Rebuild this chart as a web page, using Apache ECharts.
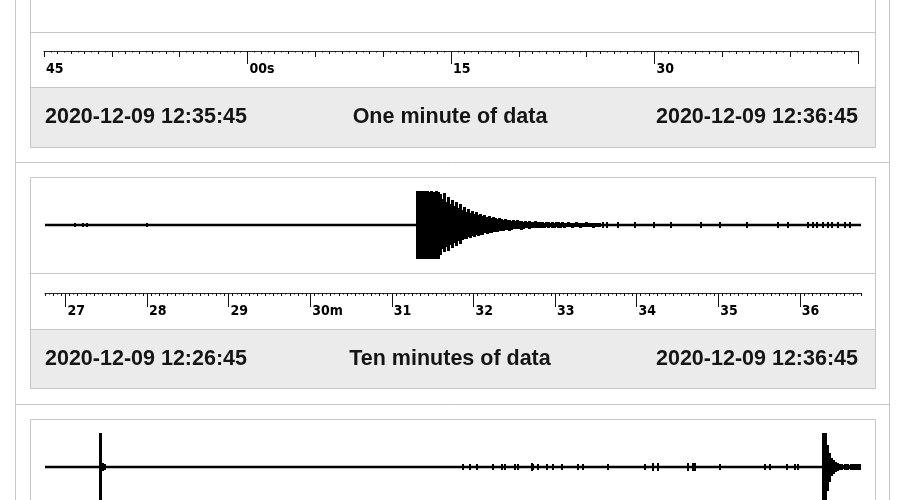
<!DOCTYPE html>
<html><head><meta charset="utf-8">
<script src="https://cdn.jsdelivr.net/npm/echarts@6/dist/echarts.min.js"></script>
<style>html,body{margin:0;padding:0;background:#fff}#c{width:900px;height:500px}</style>
</head><body><div id="c"></div>
<script>
// ---------------- data ----------------
const dateStr = '2020-12-09';
const panelTitles = ['One minute of data', 'Ten minutes of data'];
const panelStartTimes = ['12:35:45', '12:26:45'];
const panelEndTimes = ['12:36:45', '12:36:45'];
const twoHourStart = '10:36:45';
const twoHourEnd = '12:36:45';

const oneMinTickTimes = ['12:35:45', '12:36:00', '12:36:15', '12:36:30'];
const oneMinTickLabels = ['45', '00s', '15', '30'];
const tenMinTickTimes = ['12:27:00', '12:28:00', '12:29:00', '12:30:00', '12:31:00',
                         '12:32:00', '12:33:00', '12:34:00', '12:35:00', '12:36:00'];
const tenMinTickLabels = ['27', '28', '29', '30m', '31', '32', '33', '34', '35', '36'];

// ten-minute trace: envelope of the quake (amplitude above / below the baseline)
const tenMinEventStart = '12:31:19';
const tenMinEventStep = 1.5; // seconds per column
const tenMinEventUp = [
  34,34,34,34,34,34,33,34,33,34,33,
  31,26,32,23,28,21,25,19,23,17,
  21,15,18,13,16,12,14,11,13,10,
  11,9,10,8,9,7,8,7,6,7,
  6,5,6,5,5,4,5,4,5,4,
  4,3,4,3,4,3,3,4,3,3,
  3,2,3,3,2,3,2,3,3,2,
  3,2,2,3,2,2,2,3,2,2,2,2,3,2,2,2,2,2,2];
const tenMinEventDown = [
  34,34,34,34,34,34,34,34,34,34,34,
  30,24,27,22,26,20,23,18,21,16,
  19,15,14,14,12,13,11,12,10,11,
  10,10,8,9,8,8,7,7,7,6,
  6,6,5,5,6,5,4,4,4,4,
  5,4,3,3,4,3,3,3,3,3,
  3,3,2,3,2,3,3,2,3,3,
  2,3,2,2,2,3,2,2,2,3,2,2,2,2,2,3,2,2,2];
const tenMinBlipTimes = ['12:27:07', '12:27:13', '12:27:16', '12:28:00',
  '12:33:35', '12:33:38', '12:33:46', '12:33:59', '12:34:13', '12:34:25', '12:34:47',
  '12:35:01', '12:35:21', '12:35:44', '12:35:51', '12:36:06', '12:36:10', '12:36:13',
  '12:36:17', '12:36:21', '12:36:24', '12:36:28', '12:36:33', '12:36:37'];
const tenMinBlipAmps = [2, 2, 2, 2,
  3, 3, 3, 3, 3, 3, 3,
  3, 3, 3, 3, 3, 3, 3,
  3, 3, 3, 3, 3, 3];

// two-hour trace
const twoHourSpikeTimes = ['10:44:51', '10:45:09', '10:45:27'];
const twoHourSpikeAmps = [34, 4, 3];
const twoHourEventStart = '12:31:19';
const twoHourEventStep = 18; // seconds per column
const twoHourEventUp = [34, 34, 22, 14, 9, 7, 5, 4, 3, 3, 2, 3, 3, 2, 3, 3, 3, 3, 3];
const twoHourEventDown = [40, 40, 24, 15, 9, 7, 5, 4, 3, 3, 2, 3, 3, 2, 3, 3, 3, 3, 3];
const twoHourBlipTimes = ['11:38:18', '11:39:19', '11:40:21', '11:42:43', '11:44:02', '11:44:29',
  '11:45:57', '11:46:23', '11:48:27', '11:48:36', '11:49:20', '11:50:40', '11:51:33', '11:52:52',
  '11:55:14', '11:55:58', '11:59:39', '12:05:05', '12:06:16', '12:07:00', '12:11:25', '12:12:09',
  '12:12:27', '12:16:08', '12:22:45', '12:23:30', '12:26:00', '12:27:11', '12:27:37'];
const twoHourBlipAmps = [3, 3, 3, 3, 3, 3,
  3, 3, 4, 3, 3, 3, 3, 3,
  3, 3, 3, 3, 4, 4, 4, 4,
  4, 3, 3, 3, 3, 3, 3];

// ---------------- helpers ----------------
function sec(s) { const p = s.split(':').map(Number); return p[0] * 3600 + p[1] * 60 + p[2]; }
function steps(a, b, step) { const out = []; for (let v = a; v <= b + 1e-9; v += step) out.push(+v.toFixed(3)); return out; }

const oneMin = [sec(panelStartTimes[0]), sec(panelEndTimes[0])];
const tenMin = [sec(panelStartTimes[1]), sec(panelEndTimes[1])];
const twoHour = [sec(twoHourStart), sec(twoHourEnd)];

const oneMinTickNums = oneMinTickTimes.map(sec);
const tenMinTickNums = tenMinTickTimes.map(sec);

function eventCols(start, step, up, down) {
  return up.map((u, i) => [sec(start) + i * step, u, down[i]]);
}
function blipCols(times, amps) { return times.map((t, i) => [sec(t), amps[i], amps[i]]); }

const tenMinCols = eventCols(tenMinEventStart, tenMinEventStep, tenMinEventUp, tenMinEventDown);
const tenMinBlips = blipCols(tenMinBlipTimes, tenMinBlipAmps);
const twoHourCols = eventCols(twoHourEventStart, twoHourEventStep, twoHourEventUp, twoHourEventDown);
const twoHourSpikes = blipCols(twoHourSpikeTimes, twoHourSpikeAmps);
const twoHourBlips = blipCols(twoHourBlipTimes, twoHourBlipAmps);

// ---------------- chart ----------------
const chart = echarts.init(document.getElementById('c'), null, { renderer: 'canvas' });

function colSeries(axisIdx, data, w) {
  return {
    type: 'custom', xAxisIndex: axisIdx, yAxisIndex: axisIdx, data: data, silent: true, clip: false, z: 4,
    encode: { x: 0, y: [1, 2] },
    renderItem: function (params, api) {
      const t = api.value(0), up = api.value(1), dn = api.value(2);
      const p1 = api.coord([t, up]), p2 = api.coord([t, -dn]);
      const x = Math.round(p1[0] - w / 2);
      return { type: 'rect', shape: { x: x, y: Math.round(p1[1]), width: w, height: Math.round(p2[1] - p1[1]) },
               style: { fill: '#000' } };
    }
  };
}
function baseSeries(axisIdx, range) {
  return { type: 'line', xAxisIndex: axisIdx, yAxisIndex: axisIdx, data: [[range[0], 0], [range[1], 0]],
           symbol: 'none', silent: true, z: 3, lineStyle: { color: '#000', width: 2.5 } };
}

const tickFont = "'Liberation Sans Narrow', 'DejaVu Sans Condensed', 'Arial Narrow', sans-serif";
function rulerAxis(grid, range, ticks, len, labels, withLine) {
  const ax = {
    type: 'value', gridIndex: grid, min: range[0], max: range[1], position: 'bottom',
    axisLine: { show: !!withLine, onZero: false, lineStyle: { color: '#2a2a2a', width: 1 } },
    axisTick: { show: true, customValues: ticks, length: len, lineStyle: { color: '#111', width: 1 } },
    splitLine: { show: false },
    axisLabel: { show: false }
  };
  if (labels) {
    ax.axisLabel = {
      show: true, customValues: labels.values, showMinLabel: true, showMaxLabel: true,
      formatter: v => { const i = labels.values.indexOf(v); return i >= 0 ? labels.text[i] : ''; },
      align: 'left', verticalAlign: 'top', margin: 11, padding: [0, 0, 0, 2],
      fontFamily: tickFont, fontWeight: 'bold', fontSize: 14, color: '#000'
    };
  }
  return ax;
}

const grids = [
  { left: 45, top: 177, width: 816, height: 96 },   // ten-minute trace
  { left: 45, top: 419, width: 815, height: 96 },   // two-hour trace
  { left: 44, top: 50, width: 814, height: 1 },     // one-minute ruler
  { left: 45, top: 292, width: 816, height: 1 }     // ten-minute ruler
].map(g => Object.assign({ outerBoundsMode: 'none', containLabel: false, show: false }, g));

const xAxes = [
  { type: 'value', gridIndex: 0, min: tenMin[0], max: tenMin[1], show: false },
  { type: 'value', gridIndex: 1, min: twoHour[0], max: twoHour[1], show: false },
  rulerAxis(2, oneMin, oneMinTickNums.slice(1).concat([oneMin[1]]), 13,
            { values: oneMinTickNums, text: oneMinTickLabels }, true),
  rulerAxis(2, oneMin, steps(oneMin[0], oneMin[1], 5), 6),
  rulerAxis(2, oneMin, steps(oneMin[0], oneMin[1], 1), 3),
  rulerAxis(2, oneMin, steps(oneMin[0], oneMin[1], 0.5), 1.5),
  rulerAxis(3, tenMin, tenMinTickNums, 14, { values: tenMinTickNums, text: tenMinTickLabels }, true),
  rulerAxis(3, tenMin, steps(tenMin[0], tenMin[1], 6), 3),
  rulerAxis(3, tenMin, steps(tenMin[0], tenMin[1], 3), 1.5)
];
const yAxes = [
  { type: 'value', gridIndex: 0, min: -48, max: 48, show: false },
  { type: 'value', gridIndex: 1, min: -48, max: 48, show: false },
  { type: 'value', gridIndex: 2, min: 0, max: 1, show: false },
  { type: 'value', gridIndex: 3, min: 0, max: 1, show: false }
];

// ---------------- page frame (graphic) ----------------
const border = '#c6c6c6', footerFill = '#ebebeb';
const footFont = 'bold 21.5px "Liberation Sans", Arial, sans-serif';
function hline(x1, x2, y) { return { type: 'line', shape: { x1: x1, y1: y, x2: x2, y2: y }, style: { stroke: border, lineWidth: 1 }, z: 1 }; }
function vline(x, y1, y2) { return { type: 'line', shape: { x1: x, y1: y1, x2: x, y2: y2 }, style: { stroke: border, lineWidth: 1 }, z: 1 }; }
function box(y1, y2) { return { type: 'rect', shape: { x: 30.5, y: y1, width: 845, height: y2 - y1 }, style: { fill: '#fff', stroke: border, lineWidth: 1 }, z: 0 }; }
function footer(y1, y2) { return { type: 'rect', shape: { x: 31, y: y1, width: 844, height: y2 - y1 }, style: { fill: footerFill }, z: 1 }; }
function txt(x, y, s, align) { return { type: 'text', x: x, y: y, style: { text: s, font: footFont, fill: '#151515', align: align, verticalAlign: 'middle' }, z: 5 }; }

const elements = [
  vline(15.5, -10, 510), vline(889.5, -10, 510),
  hline(15, 890, 162.5), hline(15, 890, 404.5),
  // one-minute panel
  box(-120, 147.5), hline(30, 876, 32.5), footer(88, 147), hline(30, 876, 87.5),
  txt(45, 117.5, dateStr + ' ' + panelStartTimes[0], 'left'),
  txt(450, 117.5, panelTitles[0], 'center'),
  txt(858, 117.5, dateStr + ' ' + panelEndTimes[0], 'right'),
  // ten-minute panel
  box(177.5, 388.5), hline(30, 876, 273.5), footer(330, 388), hline(30, 876, 329.5),
  txt(45, 359, dateStr + ' ' + panelStartTimes[1], 'left'),
  txt(450, 359, panelTitles[1], 'center'),
  txt(858, 359, dateStr + ' ' + panelEndTimes[1], 'right'),
  // two-hour panel
  box(419.5, 640)
];

chart.setOption({
  animation: false,
  backgroundColor: '#fff',
  grid: grids,
  xAxis: xAxes,
  yAxis: yAxes,
  graphic: { elements: elements },
  series: [
    baseSeries(0, tenMin),
    colSeries(0, tenMinCols, 3),
    colSeries(0, tenMinBlips, 2),
    baseSeries(1, twoHour),
    colSeries(1, twoHourSpikes, 3),
    colSeries(1, twoHourCols, 3),
    colSeries(1, twoHourBlips, 2)
  ]
});
</script>
</body></html>
